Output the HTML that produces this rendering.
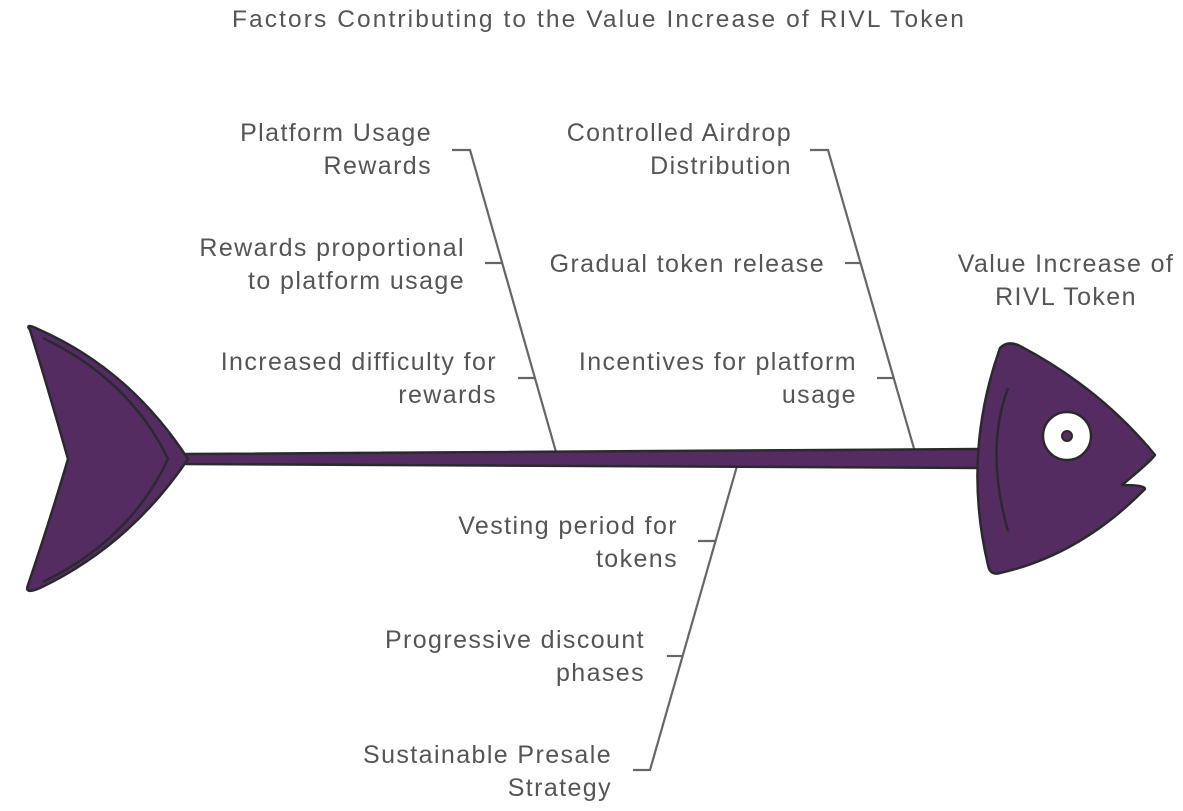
<!DOCTYPE html>
<html><head><meta charset="utf-8"><style>
html,body{margin:0;padding:0;background:#fff;}
svg text{font-family:"Liberation Sans",sans-serif;fill:#555;font-size:25px;letter-spacing:1.4px;}
</style></head><body>
<svg width="1183" height="806" viewBox="0 0 1183 806" xmlns="http://www.w3.org/2000/svg">
<text x="599" y="27" text-anchor="middle" style="font-size:24.5px;letter-spacing:2.1px">Factors Contributing to the Value Increase of RIVL Token</text>
<g stroke="#666" stroke-width="2.2" fill="none">
<polyline points="452,150 470,150 556,452"/>
<line x1="485" y1="263" x2="502" y2="263"/>
<line x1="518" y1="378" x2="535" y2="378"/>
<polyline points="810,150 828,150 915,452"/>
<line x1="845" y1="263" x2="860" y2="263"/>
<line x1="877" y1="378" x2="893" y2="378"/>
<polyline points="737,466 650,770 633,770"/>
<line x1="698" y1="541" x2="716" y2="541"/>
<line x1="667" y1="656" x2="683" y2="656"/>
</g>
<g text-anchor="end">
<text x="432" y="141">Platform Usage</text><text x="432" y="174">Rewards</text>
<text x="465" y="256">Rewards proportional</text><text x="465" y="289">to platform usage</text>
<text x="497" y="370">Increased difficulty for</text><text x="497" y="403">rewards</text>
<text x="792" y="141">Controlled Airdrop</text><text x="792" y="174">Distribution</text>
<text x="825" y="272">Gradual token release</text>
<text x="857" y="370">Incentives for platform</text><text x="857" y="403">usage</text>
<text x="678" y="534">Vesting period for</text><text x="678" y="567">tokens</text>
<text x="645" y="648">Progressive discount</text><text x="645" y="681">phases</text>
<text x="612" y="763">Sustainable Presale</text><text x="612" y="796">Strategy</text>
</g>
<text x="1066" y="272" text-anchor="middle">Value Increase of</text>
<text x="1066" y="305" text-anchor="middle">RIVL Token</text>
<g stroke="#2a2a2e" stroke-width="2.5" stroke-linejoin="round">
<polygon points="186,454 980,449 980,468 186,464" fill="#542c62"/>
<path d="M30,330 Q24,322 40,330 Q130,370 188,459 Q130,545 40,588 Q24,595 28,585 Q50,520 68,459 Q50,395 30,330 Z" fill="#542c62"/>
<path d="M43,338 Q130,380 168,459 Q130,540 43,582" fill="none"/>
<path d="M1000,348 Q1008,340 1020,346 Q1100,388 1155,455 Q1150,462 1122,485 Q1145,485 1145,489 Q1080,555 1000,573 Q990,576 988,565 Q962,455 1000,348 Z" fill="#542c62"/>
<path d="M1008,388 Q985,450 1008,531" fill="none"/>
<circle cx="1067" cy="436" r="24" fill="#fff"/>
<circle cx="1067" cy="436" r="5" fill="#542c62" stroke-width="2"/>
</g>
</svg>
</body></html>
